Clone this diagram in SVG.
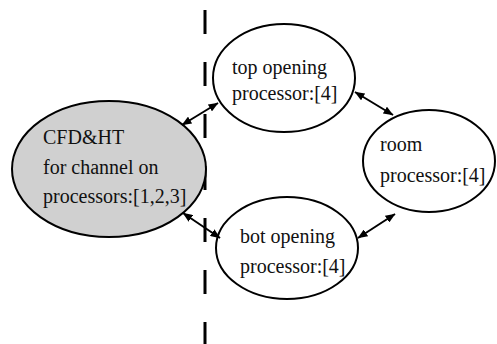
<svg xmlns="http://www.w3.org/2000/svg" width="497" height="344" viewBox="0 0 497 344">
<style>
.n{fill:#fff;stroke:#000;stroke-width:2}
.g{fill:#d0d0d0}
.t{font-family:'Liberation Serif','Times New Roman',serif;font-size:20px;fill:#111}
.c{stroke:#000;stroke-width:2;fill:none;marker-start:url(#a);marker-end:url(#a)}
.d{stroke:#000;stroke-width:3;stroke-dasharray:24 28}
</style>
<defs>
<marker id="a" viewBox="0 0 10 8" refX="9.5" refY="4" markerWidth="10" markerHeight="8" markerUnits="userSpaceOnUse" orient="auto-start-reverse">
<path d="M0,0 L10,4 L0,8 Z" fill="#000"/>
</marker>
</defs>
<line class="d" x1="205" y1="10" x2="205" y2="344"/>
<g id="cfd">
<ellipse class="n g" cx="109" cy="169" rx="97" ry="68"/>
<text class="t" x="43" y="144">CFD&amp;HT</text>
<text class="t" x="43" y="174">for channel on</text>
<text class="t" x="43" y="203">processors:[1,2,3]</text>
</g>
<g id="top">
<ellipse class="n" cx="284" cy="78" rx="71" ry="54"/>
<text class="t" x="232" y="74">top opening</text>
<text class="t" x="232" y="100">processor:[4]</text>
</g>
<g id="bot">
<ellipse class="n" cx="287" cy="248" rx="71" ry="51"/>
<text class="t" x="240" y="243">bot opening</text>
<text class="t" x="240" y="273">processor:[4]</text>
</g>
<g id="room">
<ellipse class="n" cx="429" cy="161" rx="66" ry="51"/>
<text class="t" x="380" y="151">room</text>
<text class="t" x="380" y="182">processor:[4]</text>
</g>
<g id="connectors">
<line class="c" x1="182" y1="125" x2="218" y2="103"/>
<line class="c" x1="183" y1="213" x2="220" y2="238"/>
<line class="c" x1="355" y1="92" x2="393" y2="115"/>
<line class="c" x1="395" y1="214" x2="358" y2="238"/>
</g>
</svg>
